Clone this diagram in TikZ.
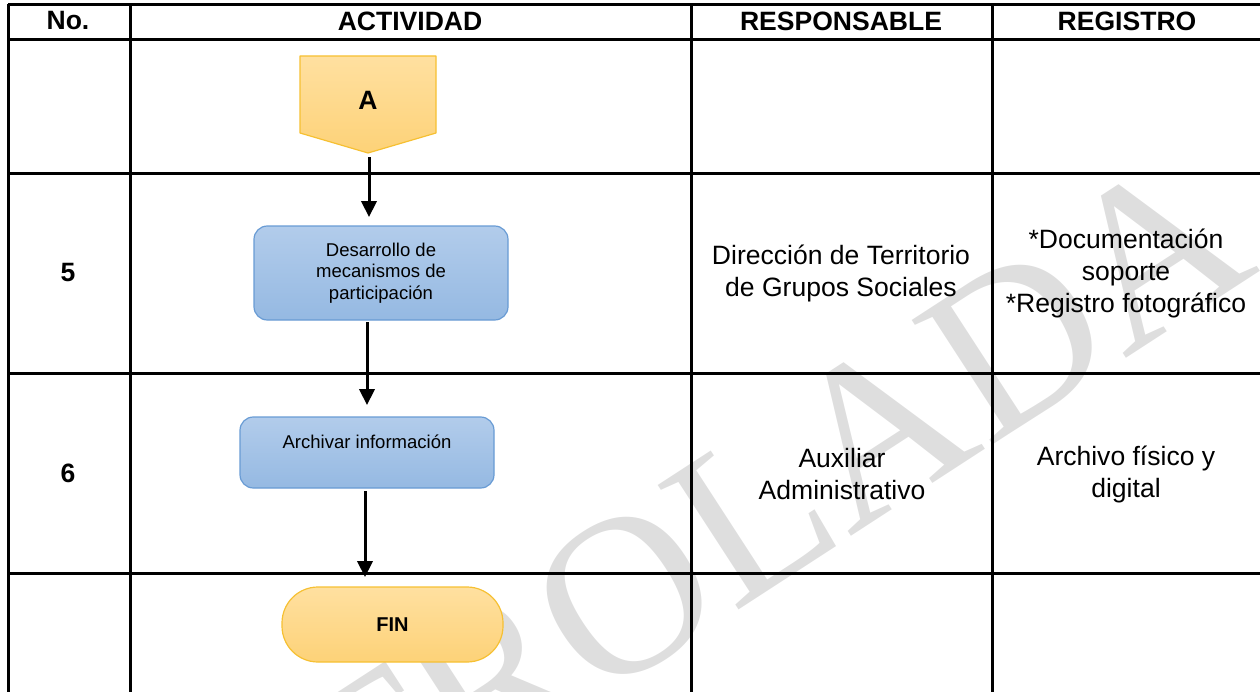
\documentclass[tikz,border=0pt]{standalone}
\usepackage{fontspec}
\setmainfont{Liberation Sans}
\newfontfamily\wmfont{Liberation Serif}
\usetikzlibrary{arrows.meta,calc}
\definecolor{gridc}{RGB}{0,0,0}
\definecolor{bluetop}{RGB}{178,204,235}
\definecolor{bluebot}{RGB}{149,185,226}
\definecolor{blueedge}{RGB}{104,155,212}
\definecolor{ortop}{RGB}{255,224,160}
\definecolor{orbot}{RGB}{253,210,120}
\definecolor{oredge}{RGB}{246,192,50}
\definecolor{wm}{RGB}{222,222,222}
\tikzset{
  grid/.style={line width=2.25pt, draw=gridc},
  headtxt/.style={font=\fontsize{19.9}{23}\selectfont\bfseries, inner sep=0},
  bodytxt/.style={font=\fontsize{19.9}{24}\selectfont, align=center, inner sep=0},
  boxtxt/.style={font=\fontsize{13.9}{16.3}\selectfont, align=center, inner sep=0},
  actbox/.style={draw=blueedge, line width=0.9pt, rounded corners=10pt, top color=bluetop, bottom color=bluebot, inner sep=0},
  termbox/.style={draw=oredge, line width=0.9pt, rounded corners=27pt, top color=ortop, bottom color=orbot, inner sep=0},
  arr/.style={line width=2.25pt, -{Triangle[width=11.5pt,length=12pt]}},
}
\begin{document}
\begin{tikzpicture}[x=0.75pt,y=-0.75pt]
\useasboundingbox (0,0) rectangle (1260,692);
\clip (0,0) rectangle (1260,692);
% watermark
\node[wm, font=\wmfont\fontsize{170}{170}\selectfont, rotate=33, anchor=base east, inner sep=0] (wmark) at (1262,270) {CONTROLADA};
% table grid
\draw[grid] (8,5) -- (1262,5);
\draw[grid] (8,40) -- (1262,40);
\draw[grid] (8,173) -- (1262,173);
\draw[grid] (8,373) -- (1262,373);
\draw[grid] (8,573) -- (1262,573);
\draw[grid] (8,4) -- (8,694);
\draw[grid] (130,4) -- (130,694);
\draw[grid] (691,4) -- (691,694);
\draw[grid] (992,4) -- (992,694);
% headers
\node[headtxt] (hno) at (68,21) {No.};
\node[headtxt] (hact) at (410,21) {ACTIVIDAD};
\node[headtxt] (hresp) at (841,21) {RESPONSABLE};
\node[headtxt] (hreg) at (1127,21) {REGISTRO};
% numbers
\node[headtxt] (n5) at (68,272) {5};
\node[headtxt] (n6) at (68,473) {6};
% off-page connector A
\shade[top color=ortop, bottom color=orbot] (300,56) -- (436,56) -- (436,133) -- (368,153) -- (300,133) -- cycle;
\draw[oredge, line width=0.9pt, line join=round] (300,56) -- (436,56) -- (436,133) -- (368,153) -- (300,133) -- cycle;
\node[headtxt] (conA) at (368,100) {A};
\coordinate (atip) at (369,157);
% activity boxes
\node[actbox, boxtxt, minimum width=190.5pt, minimum height=70.5pt] (d1) at (381,273) {Desarrollo de\\mecanismos de\\participación};
\node[actbox, minimum width=190.5pt, minimum height=53.25pt] (d2) at (367,452.5) {};
\node[boxtxt] (d2t) at (367,442) {Archivar información};
\node[termbox, font=\fontsize{15}{18}\selectfont\bfseries, minimum width=165.75pt, minimum height=56.25pt] (fin) at (392.5,624.5) {FIN};
% connectors
\coordinate (e1) at (369,217);
\coordinate (s2) at (367,322);
\coordinate (e2) at (367,405);
\coordinate (s3) at (365,491);
\coordinate (e3) at (365,577);
\draw[arr] (atip) -- (e1);
\draw[arr] (s2) -- (e2);
\draw[arr] (s3) -- (e3);
% responsible / record texts
\node[bodytxt] (r5) at (841,273) {Dirección de Territorio\\de Grupos Sociales};
\node[bodytxt] (g5) at (1126,273) {*Documentación\\soporte\\*Registro fotográfico};
\node[bodytxt] (r6) at (842,474) {Auxiliar\\Administrativo};
\node[bodytxt] (g6) at (1126,474) {Archivo físico y\\digital};
\end{tikzpicture}
\end{document}
